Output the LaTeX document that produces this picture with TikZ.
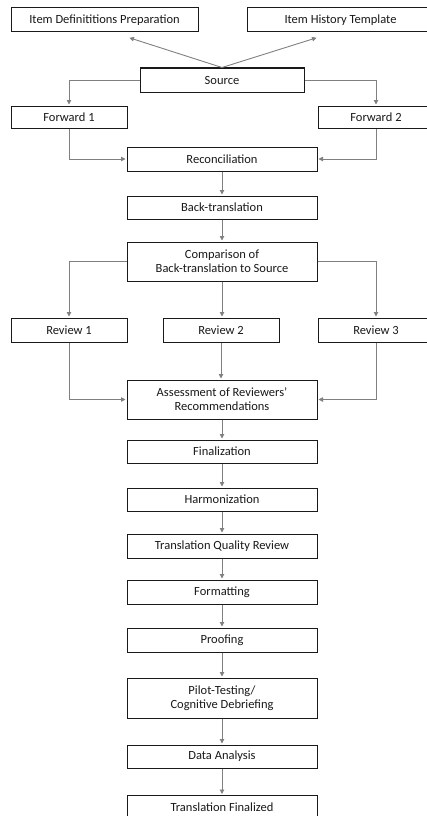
\documentclass[tikz,border=0pt]{standalone}
\usepackage{fontspec}
\setmainfont{Carlito}
\usetikzlibrary{arrows.meta}

\begin{document}
\begin{tikzpicture}[x=1pt,y=-1pt,
		box/.style={draw=black!90,line width=1pt,fill=white,minimum height=24pt,
			inner sep=1pt,align=center,font=\fontsize{12.5}{14}\selectfont,text=black!90},
		wide/.style={box,minimum width=190pt},
		small/.style={box,minimum width=116pt},
		arr/.style={draw=black!50,line width=0.9pt,-{Triangle[length=4.5pt,width=4.5pt]},shorten >=1pt}]
		\useasboundingbox (0,0) rectangle (427,816);
		\clip (0,0) rectangle (427,816);
		
		\node[box,minimum width=187pt] (defs) at (104.5,20) {Item Definititions Preparation};
		\node[box,minimum width=187pt] (hist) at (340.5,20) {Item History Template};
		\node[box,minimum width=164pt] (src) at (222,80) {Source};
		\node[small,minimum height=22pt] (fwd1) at (69,117) {Forward 1};
		\node[small,minimum height=22pt] (fwd2) at (376,117) {Forward 2};
		\node[wide] (recon) at (222,159) {Reconciliation};
		\node[wide,minimum height=23pt] (back) at (222,207.5) {Back-translation};
		\node[wide,minimum height=39pt] (comp) at (222,261.5) {Comparison of\\Back-translation to Source};
		\node[small] (rev1) at (69,330) {Review 1};
		\node[small] (rev2) at (221,330) {Review 2};
		\node[small] (rev3) at (376,330) {Review 3};
		\node[wide,minimum height=39pt] (assess) at (222,399.5) {Assessment of Reviewers'\\Recommendations};
		\node[wide,minimum height=23pt] (final) at (222,451.5) {Finalization};
		\node[wide,minimum height=23pt] (harm) at (222,499.5) {Harmonization};
		\node[wide] (tqr) at (222,546) {Translation Quality Review};
		\node[wide] (fmt) at (222,592) {Formatting};
		\node[wide] (proof) at (222,640) {Proofing};
		\node[wide,minimum height=40pt] (pilot) at (222,698) {Pilot-Testing/\\Cognitive Debriefing};
		\node[wide,minimum height=23pt] (data) at (222,756.5) {Data Analysis};
		\node[wide,minimum height=23pt] (tfin) at (222,807) {Translation Finalized};
		
		% source to the two side boxes
		\draw[arr] (src.north) -- ([xshift=24pt,yshift=-5pt]defs.south);
		\draw[arr] (src.north) -- ([xshift=-23pt,yshift=-5pt]hist.south);
		\draw[arr] (src.west) -| (fwd1.north);
		\draw[arr] (src.east) -| (fwd2.north);
		\draw[arr] (fwd1.south) |- (recon.west);
		\draw[arr] (fwd2.south) |- (recon.east);
		\draw[arr] (recon) -- (back);
		\draw[arr] (back) -- (comp);
		
		% reviews
		\draw[arr] (comp.west) -| (rev1.north);
		\draw[arr] (comp.east) -| (rev3.north);
		\draw[arr] (comp.south) -- (comp.south |- rev2.north);
		\draw[arr] (rev1.south) |- (assess.west);
		\draw[arr] (rev3.south) |- (assess.east);
		\draw[arr] (rev2.south) -- (rev2.south |- assess.north);
		
		% the rest of the chain
		\draw[arr] (assess) -- (final);
		\draw[arr] (final) -- (harm);
		\draw[arr] (harm) -- (tqr);
		\draw[arr] (tqr) -- (fmt);
		\draw[arr] (fmt) -- (proof);
		\draw[arr] (proof) -- (pilot);
		\draw[arr] (pilot) -- (data);
		\draw[arr] (data) -- (tfin);
	\end{tikzpicture}
\end{document}
